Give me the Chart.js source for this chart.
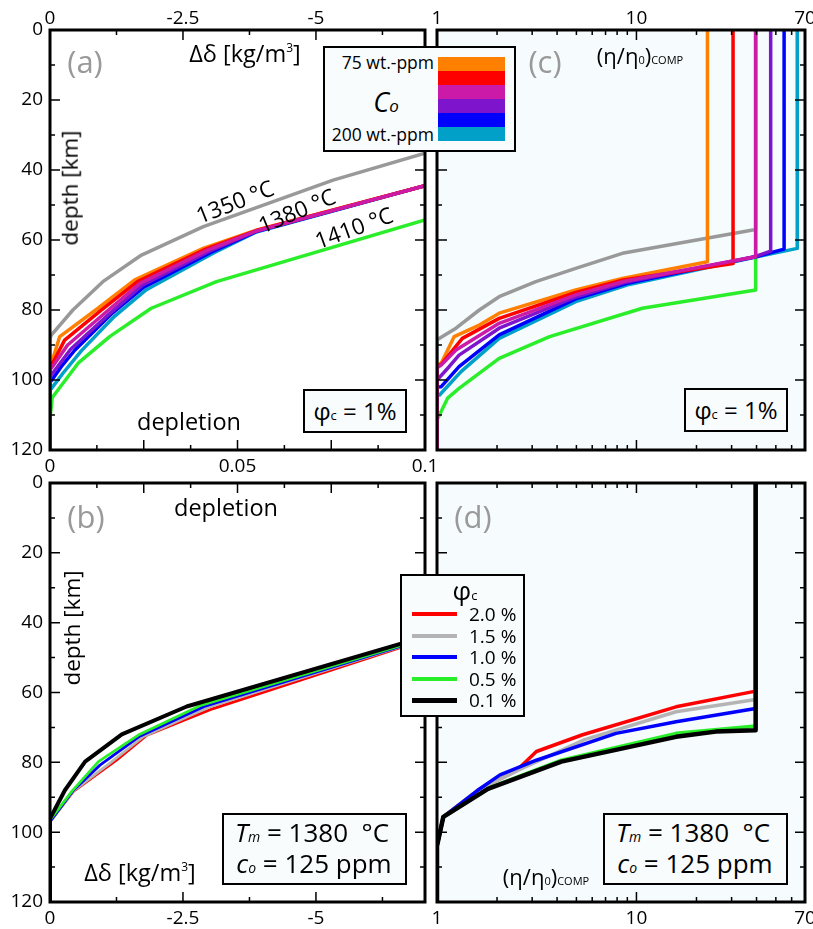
<!DOCTYPE html>
<html>
<head>
<meta charset="utf-8">
<script src="https://cdn.jsdelivr.net/npm/chart.js@4.4.1/dist/chart.umd.min.js"></script>
<style>
  body { margin: 0; background: #fff; }
  #fig { position: relative; width: 813px; height: 929px; overflow: hidden; font-family: 'Open Sans', sans-serif; }
  #fig canvas { position: absolute; left: 0; top: 0; }
  .t { position: absolute; transform: translate(-50%, -50%); white-space: nowrap; color: #000; line-height: 1; }
  .lab { color: #999; font-size: 31px; }
  .box { position: absolute; border: 2.5px solid #000; background: #f8fcfd; box-sizing: border-box; }
  .bar { position: absolute; left: 438px; width: 67px; height: 14px; }
  .ln { position: absolute; left: 412px; width: 45px; }
  .lt { position: absolute; left: 469px; font-size: 19px; transform: translateY(-50%); line-height: 1; }
</style>
</head>
<body>
<div id="fig">
  <canvas id="ca" width="813" height="929"></canvas>
  <canvas id="cb" width="813" height="929"></canvas>
  <canvas id="cc" width="813" height="929"></canvas>
  <canvas id="cd" width="813" height="929"></canvas>

  <!-- panel letters -->
  <div class="t lab" style="left:85px;top:61px">(a)</div>
  <div class="t lab" style="left:86px;top:516px">(b)</div>
  <div class="t lab" style="left:545px;top:61px">(c)</div>
  <div class="t lab" style="left:473px;top:516px">(d)</div>

  <!-- axis titles -->
  <div class="t" style="left:245px;top:54px;font-size:23.5px">Δδ [kg/m<span style="font-size:12px;vertical-align:10px">3</span>]</div>
  <div class="t" style="left:189px;top:422px;font-size:23.5px">depletion</div>
  <div class="t" style="left:70px;top:188px;font-size:22.5px;transform:translate(-50%,-50%) rotate(-90deg)">depth [km]</div>
  <div class="t" style="left:226px;top:508px;font-size:23.5px">depletion</div>
  <div class="t" style="left:140px;top:873px;font-size:23.5px">Δδ [kg/m<span style="font-size:12px;vertical-align:10px">3</span>]</div>
  <div class="t" style="left:72px;top:628px;font-size:22.5px;transform:translate(-50%,-50%) rotate(-90deg)">depth [km]</div>
  <div class="t" style="left:640px;top:55px;font-size:22px">(η/η<span style="font-size:11px">0</span>)<span style="font-size:11px">COMP</span></div>
  <div class="t" style="left:546px;top:876px;font-size:22px">(η/η<span style="font-size:11px">0</span>)<span style="font-size:11px">COMP</span></div>

  <!-- temperature labels -->
  <div class="t" style="left:235px;top:202px;font-size:22.5px;transform:translate(-50%,-50%) rotate(-21.5deg)">1350 °C</div>
  <div class="t" style="left:297px;top:211px;font-size:22.5px;transform:translate(-50%,-50%) rotate(-22.5deg)">1380 °C</div>
  <div class="t" style="left:354px;top:228px;font-size:22.5px;transform:translate(-50%,-50%) rotate(-20deg)">1410 °C</div>

  <!-- phi_c boxes -->
  <div class="box" style="left:303px;top:389px;width:104px;height:44px"></div>
  <div class="t" style="left:355px;top:411px;font-size:24px">φ<span style="font-size:13px">c</span> = 1%</div>
  <div class="box" style="left:684px;top:388px;width:104px;height:44px"></div>
  <div class="t" style="left:736px;top:410px;font-size:24px">φ<span style="font-size:13px">c</span> = 1%</div>

  <!-- Tm / co boxes -->
  <div class="box" style="left:222px;top:813px;width:185px;height:72px"></div>
  <div class="t" style="left:312px;top:832px;font-size:26px"><i>T</i><i style="font-size:14px">m</i> = 1380 &nbsp;°C</div>
  <div class="t" style="left:314px;top:863px;font-size:26px"><i>c</i><i style="font-size:14px">o</i> = 125 ppm</div>
  <div class="box" style="left:603px;top:813px;width:185px;height:72px"></div>
  <div class="t" style="left:693px;top:832px;font-size:26px"><i>T</i><i style="font-size:14px">m</i> = 1380 &nbsp;°C</div>
  <div class="t" style="left:695px;top:863px;font-size:26px"><i>c</i><i style="font-size:14px">o</i> = 125 ppm</div>

  <!-- c0 colour legend -->
  <div class="box" id="coBox" style="left:323px;top:46px;width:193px;height:106px"></div>
  <div class="t" style="left:434px;top:63px;font-size:17.5px;transform:translate(-100%,-50%)">75 wt.-ppm</div>
  <div class="t" style="left:434px;top:135px;font-size:17.5px;transform:translate(-100%,-50%)">200 wt.-ppm</div>
  <div class="t" style="left:386px;top:101px;font-size:27px"><i>C</i><i style="font-size:17px">o</i></div>
  <div id="coBars"></div>

  <!-- phi_c legend -->
  <div class="box" style="left:400px;top:574px;width:125px;height:143px"></div>
  <div class="t" style="left:465px;top:590px;font-size:26px">φ<span style="font-size:13px">c</span></div>
  <div id="phiLegend"></div>
</div>

<script>
// ---------- data ----------
// depth ticks (km)
const depthLabels = [0, 20, 40, 60, 80, 100, 120];
const depthMajor = [20, 40, 60, 80, 100];
const depthMinor = [10, 30, 50, 70, 90, 110];
// density anomaly ticks (kg/m3)
const ddLabels = [0, -2.5, -5];
const ddMajor = [-2.5, -5];
const ddMinor = [-1.25, -3.75, -6.25];
// depletion ticks
const depLabels = [0, 0.05, 0.1];
const depMajor = [0.025, 0.05, 0.075];
const depMinor = [0.0125, 0.0375, 0.0625, 0.0875];
// viscosity ratio ticks (log)
const viscLabels = [1, 10, 70];
const viscMajor = [10];
const viscMinor = [2, 3, 4, 5, 6, 7, 8, 9, 20, 30, 40, 50, 60];

// c0 series colours: 75, 100, 125, 150, 175, 200 wt.-ppm
const coColors = ['#ff8000', '#ff0000', '#cc1aa8', '#7e14cc', '#0000ff', '#00a0c8'];

// (a) depletion vs depth, phi_c = 1%
const aT1350 = [[0,120],[0,88],[0.0004,87.1],[0.0061,80],[0.0141,71.9],[0.0244,64.3],[0.0409,56.2],[0.0755,42.9],[0.1,35.2]];
const aT1410 = [[0,120],[0,111],[0.0006,105],[0.0075,95.2],[0.0159,87.6],[0.027,79.5],[0.0444,71.9],[0.1,54.3]];
const aC075 = [[0,120],[0,94.8],[0.0008,93.8],[0.0026,87.6],[0.0128,79.5],[0.0226,71.4],[0.041,62.3],[0.055,57.2],[0.1,44.5]];
const aC100 = [[0,120],[0,95.8],[0.0008,95],[0.0039,88.6],[0.0135,80.2],[0.0233,71.9],[0.0415,62.6],[0.055,57.3],[0.1,44.5]];
const aC125 = [[0,120],[0,97],[0.0008,96],[0.0047,90],[0.0145,81],[0.024,72.4],[0.042,62.9],[0.055,57.4],[0.1,44.5]];
const aC150 = [[0,120],[0,98.8],[0.0006,98.2],[0.0055,91.2],[0.0153,81.6],[0.0246,72.9],[0.0425,63.2],[0.055,57.5],[0.1,44.5]];
const aC175 = [[0,120],[0,100.6],[0.0005,100],[0.003,96.2],[0.0066,91.5],[0.0163,81.2],[0.025,73.5],[0.043,63.5],[0.055,57.6],[0.1,44.5]];
const aC200 = [[0,120],[0,102.8],[0.0004,102.4],[0.0035,98],[0.0084,91.6],[0.0172,81.8],[0.0257,74.2],[0.0435,63.8],[0.055,57.7],[0.1,44.5]];

// (c) (eta/eta0)comp vs depth, phi_c = 1%
const cT1350 = [[1,120],[1,88.5],[1.03,88.1],[1.245,85.2],[1.63,80],[2.05,76.2],[3.13,71.9],[4.96,68.1],[8.5,63.8],[39.6,57],[39.6,0]];
const cT1410 = [[1,120],[1,111.4],[1.13,105.2],[1.29,102.4],[2.05,93.8],[3.67,87.6],[10.7,79.5],[39.6,74.3],[39.6,0]];
const cC075 = [[1,120],[1,95.6],[1.05,95.2],[1.22,87.6],[1.63,84.3],[2.05,80.9],[4.96,74.3],[8.5,71],[22.7,66.2],[22.7,0]];
const cC100 = [[1,120],[1,96],[1.05,95.5],[1.34,88.1],[2.05,82.4],[4.96,75],[8.6,71.4],[30.5,66.7],[30.5,0]];
const cC125 = [[1,120],[1,96.5],[1.05,95.7],[1.245,91.4],[2.05,83.8],[5,75.6],[8.7,71.8],[39.6,64.8],[39.6,0]];
const cC150 = [[1,120],[1,100],[1.15,96.2],[1.29,92.9],[2.05,85.2],[5,76.2],[8.8,72.1],[39.6,64.7],[47.1,63.2],[47.1,0]];
const cC175 = [[1,120],[1,102],[1.05,101.9],[1.29,96.2],[2.05,87.1],[4.96,76.8],[9,72.4],[39.6,64.8],[55,62.6],[55,0]];
const cC200 = [[1,120],[1,104.3],[1.03,104.3],[1.32,97.6],[2.05,88.1],[4.96,77.6],[9.2,72.7],[39.6,64.9],[64,62.4],[64,0]];

// (b) density anomaly vs depth, Tm = 1380 C, c0 = 125 ppm
const phiLabels = ['2.0 %', '1.5 %', '1.0 %', '0.5 %', '0.1 %'];
const phiColors = ['#ff0000', '#b4b4b4', '#0000ff', '#2bee2b', '#000000'];
const bPhi20 = [[0,120],[0,97],[-0.44,88.3],[-1.25,79.4],[-1.82,72.2],[-3.07,64.6],[-7.05,44.8]];
const bPhi15 = [[0,120],[0,97],[-0.44,88.2],[-1.12,80.3],[-1.76,72.6],[-2.98,64.2],[-7.05,44.7]];
const bPhi10 = [[0,120],[0,97],[-0.44,88],[-0.94,80.8],[-1.69,72.5],[-2.9,64],[-7.05,44.6]];
const bPhi05 = [[0,120],[0,96.5],[-0.41,88.3],[-0.91,79.8],[-1.66,72.2],[-2.85,63.6],[-7.05,44.5]];
const bPhi01 = [[0,120],[0,96.1],[-0.28,88],[-0.66,79.8],[-1.35,72],[-2.57,64],[-7.05,44]];

// (d) (eta/eta0)comp vs depth, Tm = 1380 C, c0 = 125 ppm
const dPhi20 = [[1,120],[1,104],[1.076,95.6],[1.6,88],[2.5,82.4],[3.15,76.9],[5.37,72.1],[15.8,64.1],[39.6,59.6],[39.6,0]];
const dPhi15 = [[1,120],[1,104],[1.076,95.6],[1.6,88],[2.6,82],[5.5,73.5],[15.8,65.5],[39.6,62],[39.6,0]];
const dPhi10 = [[1,120],[1,104],[1.076,95.6],[1.6,88],[2.07,83.6],[3.15,79.4],[7.9,71.7],[15.8,68.4],[39.6,64.6],[39.6,0]];
const dPhi05 = [[1,120],[1,104],[1.076,95.6],[1.88,87],[4.2,79.4],[15.8,71.7],[39.6,69.6],[39.6,0]];
const dPhi01 = [[1,120],[1,104],[1.076,95.6],[1.8,87.6],[4.2,79.8],[15.8,72.7],[25,71.2],[39.6,70.8],[39.6,0]];

// ---------- legends (html) ----------
const bars = document.getElementById('coBars');
coColors.forEach((c, i) => {
  const d = document.createElement('div');
  d.className = 'bar';
  d.style.top = (57 + i * 14) + 'px';
  d.style.background = c;
  bars.appendChild(d);
});
const leg = document.getElementById('phiLegend');
phiLabels.forEach((lab, i) => {
  const y = 614 + i * 21.6;
  const w = i === 4 ? 5 : 4;
  const l = document.createElement('div');
  l.className = 'ln';
  l.style.top = (y - w / 2) + 'px';
  l.style.height = w + 'px';
  l.style.background = phiColors[i];
  leg.appendChild(l);
  const t = document.createElement('div');
  t.className = 'lt';
  t.style.top = y + 'px';
  t.textContent = lab;
  leg.appendChild(t);
});

// ---------- chart helpers ----------
const FONT = "'Open Sans', sans-serif";
Chart.defaults.font.family = FONT;
Chart.defaults.color = '#000';

function series(pts, color, width) {
  return {
    data: pts.map(([x, y]) => ({ x, y })),
    borderColor: color, borderWidth: width,
    showLine: true, pointRadius: 0, borderJoinStyle: 'round', borderCapStyle: 'butt'
  };
}

// draw order: first in list is drawn first (bottom)
function stack(list) {
  return list.map((d, i) => Object.assign(d, { order: list.length - i }));
}

function axis(type, position, min, max, reverse, labels, size, pad) {
  const horiz = position === 'top' || position === 'bottom';
  return {
    type, position, min, max, reverse,
    afterFit: s => {
      if (horiz) { s.height = size; s.paddingLeft = 0; s.paddingRight = 0; }
      else { s.width = size; s.paddingTop = 0; s.paddingBottom = 0; }
    },
    afterBuildTicks: s => { if (labels) s.ticks = labels.map(v => ({ value: v })); },
    ticks: { display: !!labels, font: { family: FONT, size: 19 }, color: '#000', padding: pad,
             maxRotation: 0, autoSkip: false, callback: v => String(v) },
    grid: { display: false, drawTicks: false },
    border: { display: false }
  };
}

// plot background, inward tick marks on every side, thick frame
function framePlugin(bg, marks) {
  return {
    id: 'frame',
    beforeDatasetsDraw(chart) {
      const a = chart.chartArea, ctx = chart.ctx;
      ctx.save();
      ctx.fillStyle = bg;
      ctx.fillRect(a.left, a.top, a.right - a.left, a.bottom - a.top);
      ctx.restore();
    },
    afterDraw(chart) {
      const a = chart.chartArea, ctx = chart.ctx;
      ctx.save();
      ctx.strokeStyle = '#000';
      ctx.lineWidth = 1.5;
      ctx.beginPath();
      marks.forEach(m => {
        const s = chart.scales[m.scale];
        [[m.major, 10], [m.minor, 5]].forEach(([vals, len]) => {
          vals.forEach(v => {
            const p = s.getPixelForValue(v);
            m.sides.forEach(side => {
              if (side === 'top') { ctx.moveTo(p, a.top); ctx.lineTo(p, a.top + len); }
              if (side === 'bottom') { ctx.moveTo(p, a.bottom); ctx.lineTo(p, a.bottom - len); }
              if (side === 'left') { ctx.moveTo(a.left, p); ctx.lineTo(a.left + len, p); }
              if (side === 'right') { ctx.moveTo(a.right, p); ctx.lineTo(a.right - len, p); }
            });
          });
        });
      });
      ctx.stroke();
      ctx.lineWidth = 3;
      ctx.strokeRect(a.left, a.top, a.right - a.left, a.bottom - a.top);
      ctx.restore();
    }
  };
}

function makeChart(id, datasets, scales, padding, bg, marks) {
  return new Chart(document.getElementById(id), {
    type: 'scatter',
    data: { datasets },
    options: {
      responsive: false, animation: false, devicePixelRatio: 1, events: [],
      layout: { padding },
      scales,
      plugins: { legend: { display: false }, tooltip: { enabled: false } }
    },
    plugins: [framePlugin(bg, marks)]
  });
}

const W = 3.5;

// (a)
makeChart('ca',
  stack([
    series(aT1350, '#999999', W),
    series(aT1410, '#2bee2b', W),
    series(aC200, coColors[5], W),
    series(aC175, coColors[4], W),
    series(aC150, coColors[3], W),
    series(aC075, coColors[0], W),
    series(aC100, coColors[1], W),
    series(aC125, coColors[2], W)
  ]),
  {
    x: axis('linear', 'bottom', 0, 0.1, false, depLabels, 30, 5),
    x2: axis('linear', 'top', -7.05, 0, true, ddLabels, 30, 0),
    y: axis('linear', 'left', 0, 120, true, depthLabels, 50, 7)
  },
  { left: 0, top: 0, right: 813 - 425, bottom: 929 - 450 - 30 },
  '#ffffff',
  [
    { scale: 'y', sides: ['left', 'right'], major: depthMajor, minor: depthMinor },
    { scale: 'x', sides: ['bottom'], major: depMajor, minor: depMinor },
    { scale: 'x2', sides: ['top'], major: ddMajor, minor: ddMinor }
  ]);

// (b)
makeChart('cb',
  stack([
    series(bPhi20, phiColors[0], 2.8),
    series(bPhi15, phiColors[1], 2.8),
    series(bPhi10, phiColors[2], 2.8),
    series(bPhi05, phiColors[3], 2.8),
    series(bPhi01, phiColors[4], 4)
  ]),
  {
    x: axis('linear', 'bottom', -7.05, 0, true, ddLabels, 27, 5),
    x2: axis('linear', 'top', 0, 0.1, false, null, 10, 0),
    y: axis('linear', 'left', 0, 120, true, depthLabels, 50, 7)
  },
  { left: 0, top: 483 - 10, right: 813 - 425, bottom: 0 },
  '#ffffff',
  [
    { scale: 'y', sides: ['left', 'right'], major: depthMajor, minor: depthMinor },
    { scale: 'x', sides: ['bottom'], major: ddMajor, minor: ddMinor },
    { scale: 'x2', sides: ['top'], major: depMajor, minor: depMinor }
  ]);

// (c)
makeChart('cc',
  stack([
    series(cT1350, '#999999', W),
    series(cT1410, '#2bee2b', W),
    series(cC200, coColors[5], W),
    series(cC175, coColors[4], W),
    series(cC150, coColors[3], W),
    series(cC075, coColors[0], W),
    series(cC100, coColors[1], W),
    series(cC125, coColors[2], W)
  ]),
  {
    x: axis('logarithmic', 'top', 1, 70, false, viscLabels, 30, 0),
    y: axis('linear', 'left', 0, 120, true, null, 10, 0)
  },
  { left: 437 - 10, top: 0, right: 813 - 805, bottom: 929 - 450 },
  '#f6fbfd',
  [
    { scale: 'y', sides: ['left', 'right'], major: depthMajor, minor: depthMinor },
    { scale: 'x', sides: ['top', 'bottom'], major: viscMajor, minor: viscMinor }
  ]);

// (d)
makeChart('cd',
  stack([
    series(dPhi20, phiColors[0], W),
    series(dPhi15, phiColors[1], W),
    series(dPhi10, phiColors[2], W),
    series(dPhi05, phiColors[3], W),
    series(dPhi01, phiColors[4], 4.5)
  ]),
  {
    x: axis('logarithmic', 'bottom', 1, 70, false, viscLabels, 27, 5),
    y: axis('linear', 'left', 0, 120, true, null, 10, 0)
  },
  { left: 437 - 10, top: 483, right: 813 - 805, bottom: 0 },
  '#f6fbfd',
  [
    { scale: 'y', sides: ['left', 'right'], major: depthMajor, minor: depthMinor },
    { scale: 'x', sides: ['top', 'bottom'], major: viscMajor, minor: viscMinor }
  ]);
</script>
</body>
</html>
